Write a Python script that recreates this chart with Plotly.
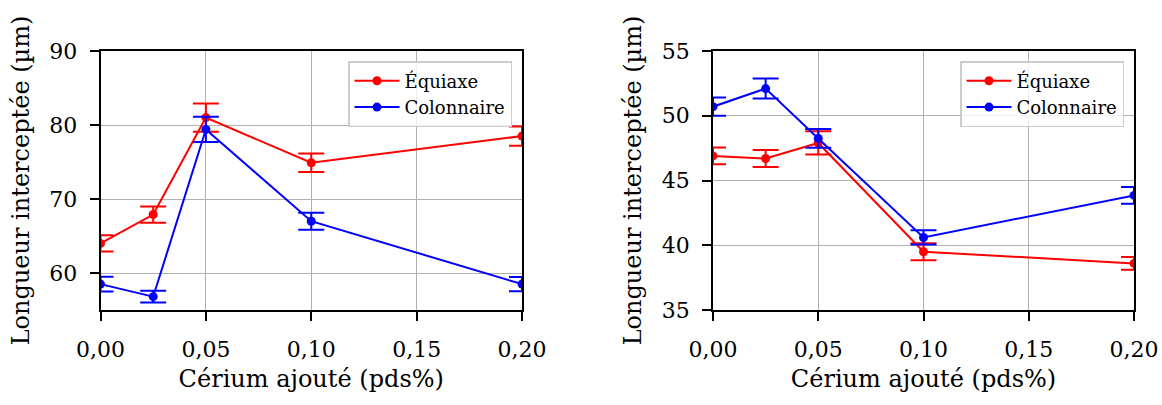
import plotly.graph_objects as go

cerium = [0.0, 0.025, 0.05, 0.10, 0.20]

left_equiaxe = [64.0, 67.9, 81.0, 74.9, 78.5]
left_equiaxe_err = [1.1, 1.1, 1.9, 1.25, 1.3]
left_colonnaire = [58.5, 56.8, 79.4, 67.0, 58.5]
left_colonnaire_err = [1.0, 0.8, 1.7, 1.15, 0.95]

right_equiaxe = [46.9, 46.7, 47.9, 39.5, 38.6]
right_equiaxe_err = [0.65, 0.65, 0.9, 0.65, 0.5]
right_colonnaire = [50.7, 52.1, 48.25, 40.6, 43.85]
right_colonnaire_err = [0.7, 0.77, 0.73, 0.55, 0.65]

x_tickvals = [0.0, 0.05, 0.10, 0.15, 0.20]
x_ticktext = ["0,00", "0,05", "0,10", "0,15", "0,20"]
left_yticks = [60, 70, 80, 90]
right_yticks = [35, 40, 45, 50, 55]

series_names = ["Équiaxe", "Colonnaire"]
colors = ["#ff0000", "#0000ff"]

FONT = "DejaVu Serif"
W, H = 1162, 405


def px_x(p):
    return p / W


def px_y(p):
    return 1 - p / H


fig = go.Figure()


def add(xaxis, yaxis, y, err, name, color, legend):
    fig.add_trace(go.Scatter(
        x=cerium, y=y, name=name, mode="lines+markers",
        line=dict(color=color, width=2),
        marker=dict(color=color, size=9),
        error_y=dict(type="data", array=err, visible=True, color=color,
                     thickness=2, width=13),
        xaxis=xaxis, yaxis=yaxis, legend=legend, cliponaxis=True,
    ))


add("x", "y", left_equiaxe, left_equiaxe_err, series_names[0], colors[0], "legend")
add("x", "y", left_colonnaire, left_colonnaire_err, series_names[1], colors[1], "legend")
add("x2", "y2", right_equiaxe, right_equiaxe_err, series_names[0], colors[0], "legend2")
add("x2", "y2", right_colonnaire, right_colonnaire_err, series_names[1], colors[1], "legend2")

ydom = [px_y(310), px_y(51)]

axis_common = dict(
    showline=True, linecolor="black", linewidth=1.6, mirror=True,
    showgrid=True, gridcolor="#b0b0b0", gridwidth=1.2,
    ticks="outside", ticklen=9, tickwidth=1.5, tickcolor="black",
    tickfont=dict(family=FONT, size=22, color="black"),
    zeroline=False, automargin=False,
)

xtitle = dict(text="Cérium ajouté (pds%)", font=dict(family=FONT, size=24, color="black"), standoff=9)
ytitle = dict(text="Longueur interceptée (µm)", font=dict(family=FONT, size=24, color="black"), standoff=13)

legend_common = dict(
    xanchor="right", yanchor="top", bgcolor="rgba(255,255,255,0.8)",
    bordercolor="#cccccc", borderwidth=1.5, itemwidth=45,
    font=dict(family=FONT, size=18, color="black"), tracegroupgap=0,
)

fig.update_layout(
    width=W, height=H,
    margin=dict(l=0, r=0, t=0, b=0, autoexpand=False),
    paper_bgcolor="white", plot_bgcolor="white",
    font=dict(family=FONT, color="black"),
    xaxis=dict(domain=[px_x(100.5), px_x(522)], range=[0, 0.2], tickvals=x_tickvals,
               ticktext=x_ticktext, title=xtitle, anchor="y", ticklabelstandoff=10,
               **axis_common),
    yaxis=dict(domain=ydom, range=[55, 90], tickvals=left_yticks, title=ytitle,
               anchor="x", ticklabelstandoff=8, **axis_common),
    xaxis2=dict(domain=[px_x(713), px_x(1134)], range=[0, 0.2], tickvals=x_tickvals,
                ticktext=x_ticktext, title=xtitle, anchor="y2", ticklabelstandoff=10,
                **axis_common),
    yaxis2=dict(domain=ydom, range=[35, 55], tickvals=right_yticks, title=ytitle,
                anchor="x2", ticklabelstandoff=8, **axis_common),
    legend=dict(x=px_x(512), y=px_y(61), **legend_common),
    legend2=dict(x=px_x(1124), y=px_y(61), **legend_common),
)

fig.write_html("out.html", config={"displayModeBar": False},
               post_script="document.body.style.margin='0';")
